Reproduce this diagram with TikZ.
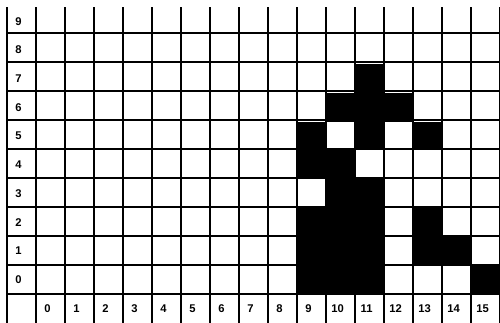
\documentclass[tikz,border=0pt]{standalone}
\usepackage{fontspec}
\setmainfont{Liberation Sans}

\begin{document}
\begin{tikzpicture}[x=1cm, y=0.99cm, line width=1.2pt, every node/.style={font=\bfseries\fontsize{11}{12}\selectfont, inner sep=1pt}]
  \useasboundingbox (-1.24,-1) rectangle (16,10.24);
  % filled cells
  \foreach \c/\r in {11/7, 10/6, 11/6, 12/6, 9/5, 11/5, 13/5, 9/4, 10/4, 10/3, 11/3,
                     9/2, 10/2, 11/2, 13/2, 9/1, 10/1, 11/1, 13/1, 14/1, 9/0, 10/0, 11/0, 15/0}
    \fill (\c,\r) rectangle ++(1,1);
  \draw (-1,-1) grid (16,10);
  % axis labels
  \foreach \r in {0,...,9}
    \node (row\r) at (-0.6,\r+0.5) {\r};
  \foreach \c in {0,...,15}
    \node (col\c) at (\c+0.4,-0.5) {\c};
\end{tikzpicture}
\end{document}
